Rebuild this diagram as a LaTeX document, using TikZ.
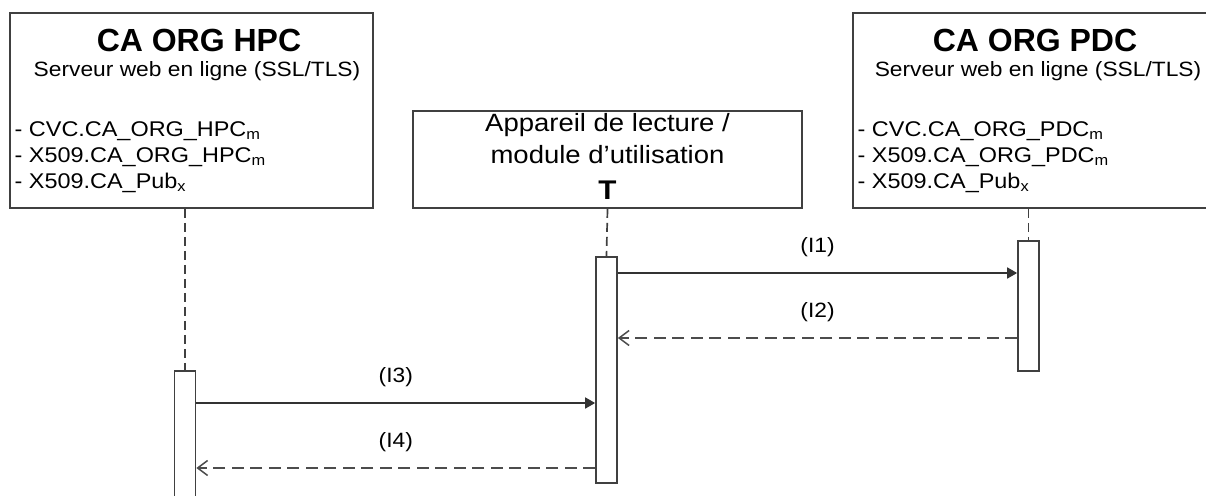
\documentclass[tikz,border=0pt]{standalone}
\usepackage{fontspec}
\setmainfont{Liberation Sans}[FakeStretch=1.1]
\newfontfamily\headfont{Liberation Sans}
\usetikzlibrary{arrows.meta}

\begin{document}
\begin{tikzpicture}[x=1pt, y=-1pt, % one unit = one pixel, y runs down
	line width=1.7pt, % line style
	box/.style={draw=black!75, fill=white, inner sep=0pt},
	act/.style={draw=black!75, fill=white, minimum width=21, inner sep=0pt},
	life/.style={draw=black!75, dash pattern=on 9pt off 5pt},
	call/.style={draw=black!80, -{Triangle[length=10pt,width=11pt]}},
	reply/.style={draw=black!70, line width=2.2pt, dash pattern=on 12pt off 6.5pt,
		-{Straight Barb[length=10pt,width=15pt,line width=1.5pt]}},
	title/.style={font=\headfont\fontsize{32}{36}\selectfont\bfseries},
	sub/.style={font=\fontsize{20.7}{24}\selectfont, anchor=base},
	cert/.style={font=\fontsize{21.3}{24}\selectfont, anchor=base west},
	dev/.style={font=\fontsize{25}{28}\selectfont, anchor=base},
	lbl/.style={font=\fontsize{20.7}{24}\selectfont, midway, yshift=26pt}]
	\useasboundingbox (0,0) rectangle (1206,495);

	% the three parties
	\node[box, minimum width=363, minimum height=195] (hpc) at (191.5,110.5) {};
	\node[box, minimum width=389, minimum height=97] (dev) at (607.5,159.5) {};
	\node[box, minimum width=354, minimum height=195] (pdc) at (1030,110.5) {};

	\node[title] (hpctitle) at (199,40) {CA ORG HPC};
	\node[sub] (hpcsub) at (197,76.5) {Serveur web en ligne (SSL/TLS)};
	\node[cert] (hpc1) at (10.5,136) {- CVC.CA\_ORG\_HPC\textsubscript{m}};
	\node[cert] (hpc2) at (10.5,162) {- X509.CA\_ORG\_HPC\textsubscript{m}};
	\node[cert] (hpc3) at (10.5,188) {- X509.CA\_Pub\textsubscript{x}};

	\node[dev] (dev1) at (607.5,131) {Appareil de lecture /};
	\node[dev] (dev2) at (607.5,163.5) {module d’utilisation};
	\node[dev, font=\fontsize{27}{30}\selectfont\bfseries] (devT) at (607.5,199.5) {T};

	\node[title] (pdctitle) at (1035,40) {CA ORG PDC};
	\node[sub] (pdcsub) at (1038,76.5) {Serveur web en ligne (SSL/TLS)};
	\node[cert] (pdc1) at (853.5,136) {- CVC.CA\_ORG\_PDC\textsubscript{m}};
	\node[cert] (pdc2) at (853.5,162) {- X509.CA\_ORG\_PDC\textsubscript{m}};
	\node[cert] (pdc3) at (853.5,188) {- X509.CA\_Pub\textsubscript{x}};

	% activation bars
	\node[act, minimum height=139] (acthpc) at (185,440.5) {};
	\node[act, minimum height=226] (actdev) at (606.5,370) {};
	\node[act, minimum height=130] (actpdc) at (1028.5,306) {};

	% lifelines
	\draw[life] (acthpc.north |- hpc.south) -- (acthpc.north);
	\draw[life] (dev.south) -- (actdev.north);
	\draw[life] (actpdc.north |- pdc.south) -- (actpdc.north);

	% messages
	\draw[call] (actdev.east |- 0,273) -- (actpdc.west |- 0,273) node[lbl] (i1) {(I1)};
	\draw[reply] (actpdc.west |- 0,338) -- (actdev.east |- 0,338) node[lbl] (i2) {(I2)};
	\draw[call] (acthpc.east |- 0,403) -- (actdev.west |- 0,403) node[lbl] (i3) {(I3)};
	\draw[reply] (actdev.west |- 0,468) -- (acthpc.east |- 0,468) node[lbl] (i4) {(I4)};
\end{tikzpicture}
\end{document}
